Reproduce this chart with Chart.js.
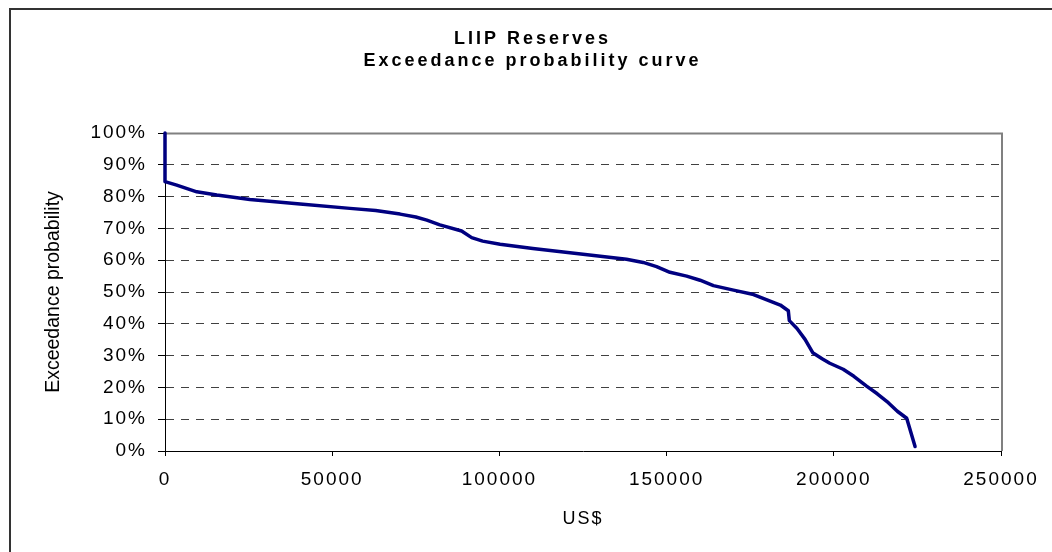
<!DOCTYPE html>
<html>
<head>
<meta charset="utf-8">
<script src="https://cdn.jsdelivr.net/npm/chart.js@4"></script>
<style>
  html, body { margin: 0; padding: 0; background: #fff; }
  #wrap { width: 1052px; height: 552px; position: relative; }
</style>
</head>
<body>
<div id="wrap"><canvas id="myChart"></canvas></div>
<script>
// loss amounts (US$) and exceedance probability (%)
const usd = [
  0, 0, 3500, 9500, 15500, 25400, 40400, 55300, 63000, 70300,
  75000, 78300, 82200, 88700, 91700, 95000, 100200, 110000, 125000, 138000,
  143000, 147000, 151000, 156000, 160000, 164000, 170000, 176000, 180000, 184000,
  186400, 186700, 189000, 191400, 193700, 196500, 198800, 202800, 206000, 209800,
  213000, 216300, 219000, 221800, 224300
];
const exceedance = [
  100, 84.7, 83.6, 81.5, 80.5, 79.1, 77.7, 76.3, 75.6, 74.5,
  73.6, 72.6, 71.1, 69.2, 67.1, 66.0, 65.0, 63.7, 61.9, 60.3,
  59.3, 58.0, 56.2, 55.0, 53.7, 52.0, 50.6, 49.2, 47.5, 45.9,
  44.1, 41.0, 38.5, 35.1, 30.9, 29.0, 27.6, 25.7, 23.5, 20.4,
  18.0, 15.2, 12.5, 10.3, 1.4
];
const titleLines = ['LIIP Reserves', 'Exceedance probability curve'];
const xTitle = 'US$';
const yTitle = 'Exceedance probability';

const font = 'Liberation Sans, Arial, sans-serif';

// wide letter spacing like the original, with per-element overrides
const spacing = {
  id: 'spacing',
  beforeDraw(chart) {
    chart.ctx.letterSpacing = '2px';
    const tb = chart.titleBlock;
    if (tb && !tb._spaced) {
      const draw = tb.draw;
      tb.draw = function () {
        this.ctx.save();
        this.ctx.letterSpacing = '3px';
        this.ctx.translate(32, 0); // title sits centred on the whole frame, not the plot
        draw.apply(this, arguments);
        this.ctx.restore();
      };
      tb._spaced = true;
    }
    const ys = chart.scales.y;
    if (ys && !ys._spaced) {
      const drawTitle = ys.drawTitle;
      ys.drawTitle = function () {
        this.ctx.save();
        this.ctx.letterSpacing = '0px';
        drawTitle.apply(this, arguments);
        this.ctx.restore();
      };
      ys._spaced = true;
    }
  },
  beforeDatasetsDraw(chart) {
    const {ctx, chartArea: a} = chart;
    ctx.save();
    // plot area top / right border
    ctx.strokeStyle = '#808080';
    ctx.lineWidth = 2;
    ctx.beginPath();
    ctx.moveTo(a.left, a.top + 0.5);
    ctx.lineTo(a.right + 1, a.top + 0.5);
    ctx.lineTo(a.right + 1, a.bottom);
    ctx.stroke();
    // outer frame
    ctx.strokeStyle = '#333';
    ctx.beginPath();
    ctx.moveTo(10, chart.height + 5);
    ctx.lineTo(10, 9);
    ctx.lineTo(chart.width + 5, 9);
    ctx.stroke();
    ctx.restore();
  }
};

new Chart(document.getElementById('myChart').getContext('2d'), {
  type: 'line',
  data: {
    datasets: [{
      data: usd.map((x, i) => ({x: x, y: exceedance[i]})),
      borderColor: '#000080',
      borderWidth: 3.5,
      borderJoinStyle: 'round',
      borderCapStyle: 'round',
      pointRadius: 0,
      tension: 0,
      fill: false,
      clip: 4
    }]
  },
  options: {
    responsive: true,
    maintainAspectRatio: false,
    animation: false,
    layout: { padding: { left: 0, right: 51, top: 0, bottom: 0 } },
    plugins: {
      legend: { display: false },
      tooltip: { enabled: false },
      title: {
        display: true,
        text: titleLines,
        color: '#000',
        font: { family: font, size: 18, weight: 'bold', lineHeight: 1.22 },
        padding: { top: 28, bottom: 61.1 }
      }
    },
    scales: {
      x: {
        type: 'linear',
        min: 0,
        max: 250000,
        afterFit(scale) { scale.height = 101; },
        ticks: {
          stepSize: 50000,
          color: '#000',
          padding: 12,
          maxRotation: 0,
          font: { family: font, size: 19 },
          callback: v => String(v)
        },
        grid: {
          drawOnChartArea: false,
          drawTicks: true,
          tickLength: 5,
          tickColor: '#000'
        },
        border: { display: true, color: '#000', width: 1 },
        title: {
          display: true,
          text: xTitle,
          color: '#000',
          font: { family: font, size: 18 },
          padding: { top: 0, bottom: 22 }
        }
      },
      y: {
        type: 'linear',
        min: 0,
        max: 100,
        afterFit(scale) { scale.width = 165; },
        ticks: {
          stepSize: 10,
          color: '#000',
          padding: 11,
          font: { family: font, size: 19 },
          callback: v => v + '%'
        },
        grid: {
          drawOnChartArea: true,
          drawTicks: true,
          tickLength: 7,
          tickColor: '#000',
          lineWidth: 1,
          color: ctx => (ctx.tick && (ctx.tick.value === 0 || ctx.tick.value === 100)) ? 'rgba(0,0,0,0)' : '#404040'
        },
        border: { display: true, color: '#000', width: 1, dash: [8, 7] },
        title: {
          display: true,
          text: yTitle,
          color: '#000',
          font: { family: font, size: 19.5 },
          padding: { top: 42, bottom: 0 }
        }
      }
    }
  },
  plugins: [spacing]
});
</script>
</body>
</html>
